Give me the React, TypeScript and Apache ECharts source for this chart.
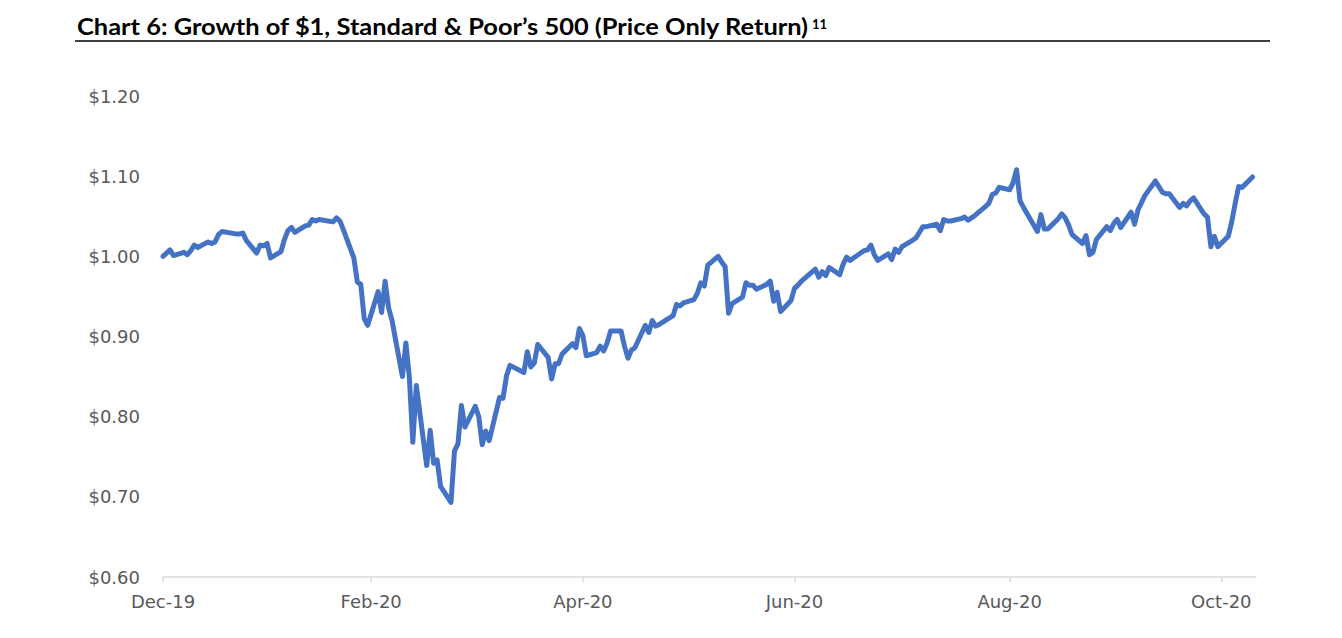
import React, { useEffect, useRef } from "react";
import * as echarts from "echarts";

// Trading days (S&P 500 closes), Dec 31 2019 = $1.00
const tradingDays: string[] = [
  "2019-12-31",
  "2020-01-02", "2020-01-03", "2020-01-06", "2020-01-07", "2020-01-08", "2020-01-09", "2020-01-10",
  "2020-01-13", "2020-01-14", "2020-01-15", "2020-01-16", "2020-01-17", "2020-01-21", "2020-01-22",
  "2020-01-23", "2020-01-24", "2020-01-27", "2020-01-28", "2020-01-29", "2020-01-30", "2020-01-31",
  "2020-02-03", "2020-02-04", "2020-02-05", "2020-02-06", "2020-02-07", "2020-02-10", "2020-02-11",
  "2020-02-12", "2020-02-13", "2020-02-14", "2020-02-18", "2020-02-19", "2020-02-20", "2020-02-21",
  "2020-02-24", "2020-02-25", "2020-02-26", "2020-02-27", "2020-02-28",
  "2020-03-02", "2020-03-03", "2020-03-04", "2020-03-05", "2020-03-06", "2020-03-09", "2020-03-10",
  "2020-03-11", "2020-03-12", "2020-03-13", "2020-03-16", "2020-03-17", "2020-03-18", "2020-03-19",
  "2020-03-20", "2020-03-23", "2020-03-24", "2020-03-25", "2020-03-26", "2020-03-27", "2020-03-30",
  "2020-03-31",
  "2020-04-01", "2020-04-02", "2020-04-03", "2020-04-06", "2020-04-07", "2020-04-08", "2020-04-09",
  "2020-04-13", "2020-04-14", "2020-04-15", "2020-04-16", "2020-04-17", "2020-04-20", "2020-04-21",
  "2020-04-22", "2020-04-23", "2020-04-24", "2020-04-27", "2020-04-28", "2020-04-29", "2020-04-30",
  "2020-05-01", "2020-05-04", "2020-05-05", "2020-05-06", "2020-05-07", "2020-05-08", "2020-05-11",
  "2020-05-12", "2020-05-13", "2020-05-14", "2020-05-15", "2020-05-18", "2020-05-19", "2020-05-20",
  "2020-05-21", "2020-05-22", "2020-05-26", "2020-05-27", "2020-05-28", "2020-05-29",
  "2020-06-01", "2020-06-02", "2020-06-03", "2020-06-04", "2020-06-05", "2020-06-08", "2020-06-09",
  "2020-06-10", "2020-06-11", "2020-06-12", "2020-06-15", "2020-06-16", "2020-06-17", "2020-06-18",
  "2020-06-19", "2020-06-22", "2020-06-23", "2020-06-24", "2020-06-25", "2020-06-26", "2020-06-29",
  "2020-06-30",
  "2020-07-01", "2020-07-02", "2020-07-06", "2020-07-07", "2020-07-08", "2020-07-09", "2020-07-10",
  "2020-07-13", "2020-07-14", "2020-07-15", "2020-07-16", "2020-07-17", "2020-07-20", "2020-07-21",
  "2020-07-22", "2020-07-23", "2020-07-24", "2020-07-27", "2020-07-28", "2020-07-29", "2020-07-30",
  "2020-07-31",
  "2020-08-03", "2020-08-04", "2020-08-05", "2020-08-06", "2020-08-07", "2020-08-10", "2020-08-11",
  "2020-08-12", "2020-08-13", "2020-08-14", "2020-08-17", "2020-08-18", "2020-08-19", "2020-08-20",
  "2020-08-21", "2020-08-24", "2020-08-25", "2020-08-26", "2020-08-27", "2020-08-28", "2020-08-31",
  "2020-09-01", "2020-09-02", "2020-09-03", "2020-09-04", "2020-09-08", "2020-09-09", "2020-09-10",
  "2020-09-11", "2020-09-14", "2020-09-15", "2020-09-16", "2020-09-17", "2020-09-18", "2020-09-21",
  "2020-09-22", "2020-09-23", "2020-09-24", "2020-09-25", "2020-09-28", "2020-09-29", "2020-09-30",
  "2020-10-01", "2020-10-02", "2020-10-05", "2020-10-06", "2020-10-07", "2020-10-08", "2020-10-09",
  "2020-10-12", "2020-10-13", "2020-10-14", "2020-10-15", "2020-10-16", "2020-10-19", "2020-10-20",
  "2020-10-21", "2020-10-22", "2020-10-23", "2020-10-26", "2020-10-27", "2020-10-28", "2020-10-29",
  "2020-10-30",
  "2020-11-02", "2020-11-03", "2020-11-04", "2020-11-05", "2020-11-06", "2020-11-09",
];

const growthOf1: number[] = [
  1.0,
  1.008, 1.001, 1.005, 1.002, 1.007, 1.014, 1.011, 1.018, 1.016, 1.018, 1.027, 1.031, 1.028, 1.028,
  1.029, 1.02, 1.004, 1.014, 1.013, 1.016, 0.998,
  1.006, 1.021, 1.032, 1.036, 1.03, 1.038, 1.039, 1.046, 1.044, 1.046, 1.043, 1.048, 1.044, 1.033,
  0.998, 0.968, 0.965, 0.922, 0.914,
  0.956, 0.93, 0.969, 0.936, 0.92, 0.85, 0.892, 0.849, 0.768, 0.839, 0.739, 0.783, 0.742, 0.746,
  0.713, 0.693, 0.757, 0.766, 0.814, 0.787, 0.813, 0.8,
  0.765, 0.782, 0.77, 0.824, 0.823, 0.851, 0.864, 0.855, 0.881, 0.862, 0.867, 0.89, 0.874, 0.847,
  0.866, 0.866, 0.878, 0.891, 0.886, 0.91, 0.901,
  0.876, 0.88, 0.888, 0.882, 0.892, 0.907, 0.907, 0.888, 0.873, 0.883, 0.886, 0.914, 0.905, 0.92,
  0.913, 0.915, 0.926, 0.94, 0.938, 0.942,
  0.946, 0.954, 0.967, 0.963, 0.989, 1.0, 0.993, 0.987, 0.929, 0.941, 0.949, 0.967, 0.964, 0.964,
  0.959, 0.965, 0.969, 0.944, 0.955, 0.931, 0.945, 0.96,
  0.964, 0.969, 0.984, 0.974, 0.981, 0.976, 0.986, 0.977, 0.99, 0.999, 0.995, 0.998, 1.007, 1.008,
  1.014, 1.002, 0.995, 1.003, 0.996, 1.009, 1.005, 1.012,
  1.02, 1.023, 1.03, 1.037, 1.037, 1.04, 1.032, 1.046, 1.044, 1.044, 1.047, 1.049, 1.045, 1.048,
  1.051, 1.062, 1.066, 1.077, 1.079, 1.086, 1.083,
  1.092, 1.108, 1.069, 1.061, 1.031, 1.052, 1.034, 1.034, 1.047, 1.053, 1.048, 1.039, 1.027, 1.016,
  1.026, 1.002, 1.005, 1.021, 1.037, 1.032, 1.041,
  1.046, 1.036, 1.055, 1.04, 1.058, 1.067, 1.076, 1.094, 1.087, 1.08, 1.078, 1.078, 1.061, 1.066,
  1.063, 1.069, 1.073, 1.053, 1.049, 1.012, 1.025, 1.012,
  1.025, 1.043, 1.066, 1.087, 1.086, 1.099,
];

const xTickDates: string[] = ["2019-12-31", "2020-02-29", "2020-04-30", "2020-06-30", "2020-08-31", "2020-10-31"];
const xTickLabels: string[] = ["Dec-19", "Feb-20", "Apr-20", "Jun-20", "Aug-20", "Oct-20"];
const axisStart = "2019-12-31";
const axisEnd = "2020-11-10";

const yMin = 0.6;
const yMax = 1.2;
const yStep = 0.1;

const titleText = "Chart 6: Growth of $1, Standard & Poor’s 500 (Price Only Return)";
const titleNote = "11";

const DAY = 86400000;
const ts = (s: string) => {
  const [y, m, d] = s.split("-").map(Number);
  return Date.UTC(y, m - 1, d);
};
// days elapsed since the axis start (calendar days)
const dayIndex = (s: string) => Math.round((ts(s) - ts(axisStart)) / DAY);

const TITLE_FONT = "bold 23px Lato, 'DejaVu Sans', sans-serif";
const NOTE_FONT = "bold 13px Lato, 'DejaVu Sans', sans-serif";
const TITLE_LEFT = 77;
const TITLE_WIDTH = 733;

export default function App() {
  const ref = useRef<HTMLDivElement>(null);

  useEffect(() => {
    if (!ref.current) return;
    const chart = echarts.init(ref.current, undefined, { renderer: "svg" });
    const tickDays = xTickDates.map(dayIndex);
    const labelFont = "'DejaVu Sans', sans-serif";

    let scaleX = 1;
    try {
      const ctx = document.createElement("canvas").getContext("2d");
      if (ctx) {
        ctx.font = TITLE_FONT;
        const w = ctx.measureText(titleText).width;
        if (w > 0) scaleX = TITLE_WIDTH / w;
      }
    } catch (e) {
      scaleX = 1;
    }

    const option: any = {
      animation: false,
      backgroundColor: "#ffffff",
      graphic: [
        {
          type: "text",
          x: TITLE_LEFT,
          y: 25.5,
          scaleX,
          silent: true,
          style: {
            text: titleText,
            font: TITLE_FONT,
            fill: "#000000",
            align: "left",
            verticalAlign: "middle",
          },
        },
        {
          type: "text",
          x: TITLE_LEFT + TITLE_WIDTH + 2,
          y: 24,
          silent: true,
          style: {
            text: titleNote,
            font: NOTE_FONT,
            fill: "#000000",
            align: "left",
            verticalAlign: "middle",
          },
        },
        {
          type: "line",
          shape: { x1: 75, y1: 41, x2: 1270, y2: 41 },
          style: { stroke: "#000000", lineWidth: 1.5 },
          silent: true,
        },
      ],
      grid: { left: 163, right: 86, top: 96, bottom: 61, containLabel: false },
      xAxis: {
        type: "value",
        min: 0,
        max: dayIndex(axisEnd),
        axisLine: { show: true, lineStyle: { color: "#D9D9D9", width: 1.5 } },
        axisTick: {
          show: true,
          customValues: tickDays,
          length: 5,
          lineStyle: { color: "#D9D9D9", width: 1.5 },
        },
        axisLabel: {
          customValues: tickDays,
          formatter: (v: number) => {
            const i = tickDays.indexOf(Math.round(v));
            return i >= 0 ? xTickLabels[i] : "";
          },
          color: "#595959",
          fontSize: 18,
          fontFamily: labelFont,
          margin: 15,
          showMinLabel: true,
          showMaxLabel: true,
        },
        splitLine: { show: false },
      },
      yAxis: {
        type: "value",
        min: yMin,
        max: yMax,
        interval: yStep,
        axisLine: { show: false },
        axisTick: { show: false },
        splitLine: { show: false },
        axisLabel: {
          formatter: (v: number) => "$" + v.toFixed(2),
          color: "#595959",
          fontSize: 18,
          fontFamily: labelFont,
          margin: 23,
        },
      },
      series: [
        {
          type: "line",
          data: tradingDays.map((d, i) => [dayIndex(d), growthOf1[i]]),
          showSymbol: false,
          symbol: "none",
          lineStyle: { color: "#4472C4", width: 5, join: "round", cap: "round" },
          itemStyle: { color: "#4472C4" },
        },
      ],
    };
    chart.setOption(option);
    return () => chart.dispose();
  }, []);

  return (
    <div
      ref={ref}
      style={{ position: "fixed", left: 0, top: 0, width: 1342, height: 638, background: "#fff" }}
    />
  );
}
